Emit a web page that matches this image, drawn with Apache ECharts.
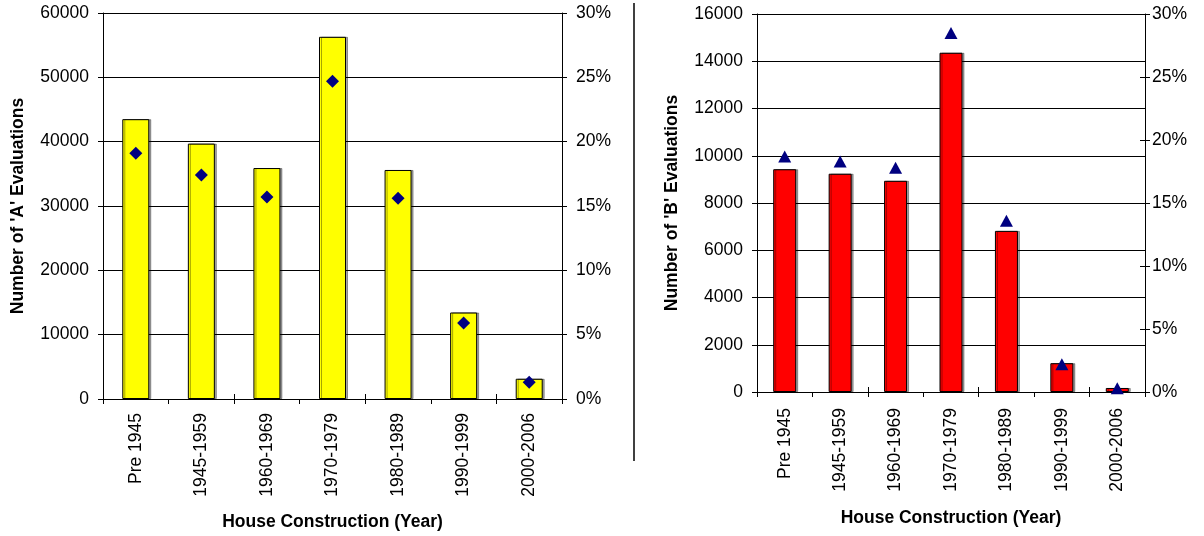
<!DOCTYPE html>
<html>
<head>
<meta charset="utf-8">
<script src="https://cdn.jsdelivr.net/npm/echarts@6/dist/echarts.min.js"></script>
<style>
  html, body { margin: 0; padding: 0; background: #fff; }
  #chart { width: 1204px; height: 536px; }
</style>
</head>
<body>
<div id="chart"></div>
<script>
// Age bands of the houses
const categories = ['Pre 1945', '1945-1959', '1960-1969', '1970-1979', '1980-1989', '1990-1999', '2000-2006'];

// 'A' evaluations: counts (bars) and share of all 'A' evaluations in % (diamonds)
const countsA = [43500, 39700, 35900, 56300, 35600, 13450, 3150];
const shareA = [19.1, 17.4, 15.7, 24.7, 15.6, 5.9, 1.3];

// 'B' evaluations: counts (bars) and share of all 'B' evaluations in % (triangles)
const countsB = [9430, 9240, 8940, 14360, 6820, 1220, 170];
const shareB = [18.7, 18.3, 17.8, 28.5, 13.6, 2.2, 0.3];

// Axis ranges
const countAxisA = { min: 0, max: 60000, interval: 10000 };
const countAxisB = { min: 0, max: 16000, interval: 2000 };
const shareAxis = { min: 0, max: 30, interval: 5 };

const FONT = "'Liberation Sans', Arial, sans-serif";
const tickText = { color: '#000', fontFamily: FONT, fontSize: 17.5 };
const nameText = { color: '#000', fontFamily: FONT, fontSize: 17.5, fontWeight: 'bold' };

function categoryAxis(gridIndex, labelMargin, nameGap) {
  return {
    type: 'category', gridIndex, data: categories, position: 'bottom',
    name: 'House Construction (Year)', nameLocation: 'middle', nameGap,
    nameTextStyle: nameText,
    axisLine: { show: true, lineStyle: { color: '#000', width: 1 } },
    axisTick: { show: true, length: 5, lineStyle: { color: '#000' } },
    axisLabel: Object.assign({ rotate: 90, margin: labelMargin, interval: 0 }, tickText),
    splitLine: { show: false }
  };
}
// inner half of the crossing category ticks
function innerCategoryTicks(gridIndex) {
  return {
    type: 'category', gridIndex, data: categories, position: 'bottom', offset: 0,
    axisLine: { show: false },
    axisTick: { show: true, inside: true, length: 5, lineStyle: { color: '#000' } },
    axisLabel: { show: false }, splitLine: { show: false }
  };
}
function countAxis(gridIndex, range, name, labelMargin, nameGap) {
  return Object.assign({
    type: 'value', gridIndex, position: 'left',
    name, nameLocation: 'middle', nameGap, nameRotate: 90,
    nameTextStyle: nameText,
    axisLine: { show: true, lineStyle: { color: '#000', width: 1 } },
    axisTick: { show: true, length: 5, lineStyle: { color: '#000' } },
    axisLabel: Object.assign({ margin: labelMargin, formatter: v => String(v) }, tickText),
    splitLine: { show: true, lineStyle: { color: '#000', width: 1 } }
  }, range);
}
function percentAxis(gridIndex, labelMargin) {
  return Object.assign({
    type: 'value', gridIndex, position: 'right',
    axisLine: { show: true, lineStyle: { color: '#000', width: 1 } },
    axisTick: { show: true, length: 5, lineStyle: { color: '#000' } },
    axisLabel: Object.assign({ margin: labelMargin, formatter: '{value}%' }, tickText),
    splitLine: { show: false }
  }, shareAxis);
}
function innerPercentTicks(gridIndex) {
  return Object.assign({
    type: 'value', gridIndex, position: 'right',
    axisLine: { show: false },
    axisTick: { show: true, inside: true, length: 5, lineStyle: { color: '#000' } },
    axisLabel: { show: false }, splitLine: { show: false }
  }, shareAxis);
}

const barShadow = { shadowColor: 'rgba(0,0,0,0.35)', shadowOffsetX: 2, shadowOffsetY: 0, shadowBlur: 0 };

const option = {
  animation: false,
  backgroundColor: '#fff',
  grid: [
    { left: 103, right: 642, top: 13, bottom: 137 },
    { left: 757, right: 59, top: 14, bottom: 144 }
  ],
  xAxis: [
    categoryAxis(0, 14, 114),
    categoryAxis(1, 16, 117),
    innerCategoryTicks(0),
    innerCategoryTicks(1)
  ],
  yAxis: [
    countAxis(0, countAxisA, "Number of 'A' Evaluations", 14, 76),
    percentAxis(0, 14),
    countAxis(1, countAxisB, "Number of 'B' Evaluations", 14, 76),
    percentAxis(1, 7),
    innerPercentTicks(1)
  ],
  series: [
    {
      type: 'bar', xAxisIndex: 0, yAxisIndex: 0, data: countsA, barWidth: 27,
      itemStyle: Object.assign({ color: '#FFFF00', borderColor: '#000', borderWidth: 1 }, barShadow)
    },
    {
      type: 'scatter', xAxisIndex: 0, yAxisIndex: 1, data: shareA,
      symbol: 'diamond', symbolSize: [13, 13], itemStyle: { color: '#000080', opacity: 1 }, z: 5
    },
    {
      type: 'bar', xAxisIndex: 1, yAxisIndex: 2, data: countsB, barWidth: 23,
      itemStyle: Object.assign({ color: '#FF0000', borderColor: '#000', borderWidth: 1 }, barShadow)
    },
    {
      type: 'scatter', xAxisIndex: 1, yAxisIndex: 3, data: shareB,
      symbol: 'triangle', symbolSize: [13, 12], itemStyle: { color: '#000080', opacity: 1 }, z: 5
    }
  ],
  graphic: [
    {
      type: 'line', shape: { x1: 634, y1: 3, x2: 634, y2: 461 },
      style: { stroke: '#000', lineWidth: 1.5 }
    }
  ]
};

const chart = echarts.init(document.getElementById('chart'), null, { renderer: 'canvas' });
chart.setOption(option);
</script>
</body>
</html>
